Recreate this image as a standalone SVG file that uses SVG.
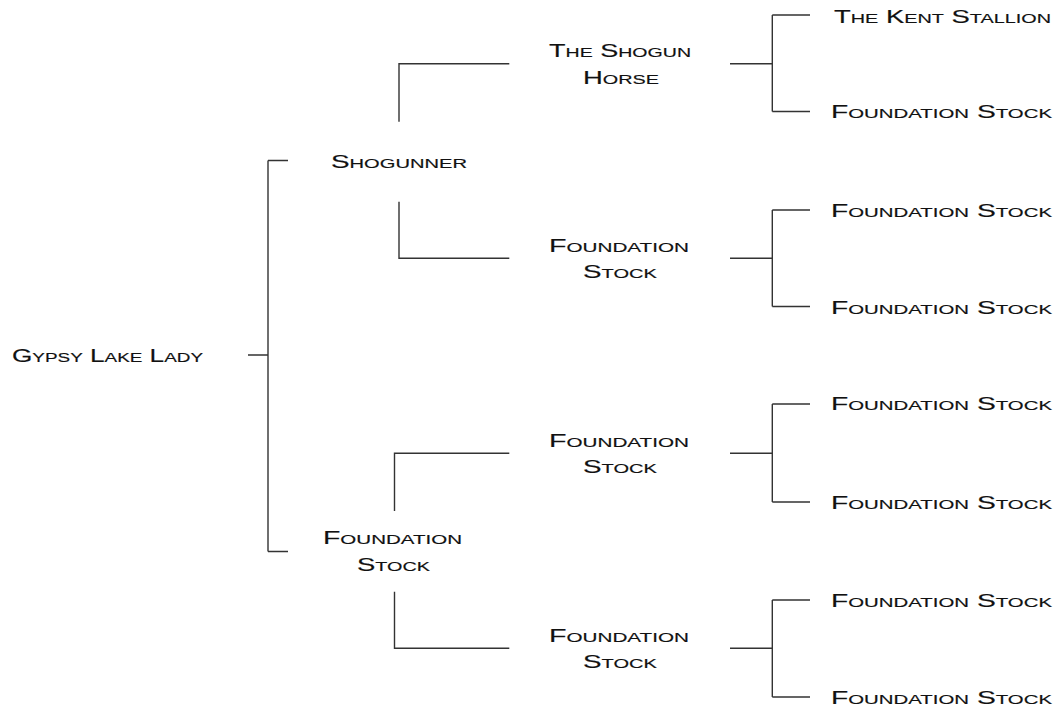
<svg xmlns="http://www.w3.org/2000/svg" width="1059" height="709" viewBox="0 0 1059 709">
<style>
.c{fill:none;stroke:#333;stroke-width:1.4}
text{font-family:"Liberation Sans",Arial,sans-serif;font-size:18px;font-variant:small-caps;fill:#111;stroke:#111;stroke-width:0.15}
</style>
<rect width="1059" height="709" fill="#fff"/>
<g id="connectors">
<path class="c" d="M248 355H268M268 160.5V551.5M268 160.5H288M268 551.5H288"/>
<path class="c" d="M399 121.7V63.7H509.3M399 201.7V258.3H509.3"/>
<path class="c" d="M394.5 511V453.3H509.3M394.5 591.7V648.3H509.3"/>
<path class="c" d="M730 63.7H772.3M772.3 15V111.5M772.3 15H810M772.3 111.5H810"/>
<path class="c" d="M730 258.3H772.3M772.3 210V306.5M772.3 210H810M772.3 306.5H810"/>
<path class="c" d="M730 453.3H772.3M772.3 404V502M772.3 404H810M772.3 502H810"/>
<path class="c" d="M730 648.3H772.3M772.3 600V697M772.3 600H810M772.3 697H810"/>
</g>
<g id="n-gypsy"><text x="12" y="361.7" textLength="191" lengthAdjust="spacingAndGlyphs">Gypsy Lake Lady</text></g>
<g id="n-shogunner"><text x="331" y="167.7" textLength="136" lengthAdjust="spacingAndGlyphs">Shogunner</text></g>
<g id="n-fs1"><text x="323" y="544" textLength="139" lengthAdjust="spacingAndGlyphs">Foundation</text><text x="357" y="571" textLength="73" lengthAdjust="spacingAndGlyphs">Stock</text></g>
<g id="n-shogunhorse"><text x="549" y="56.7" textLength="142" lengthAdjust="spacingAndGlyphs">The Shogun</text><text x="583" y="84.3" textLength="76" lengthAdjust="spacingAndGlyphs">Horse</text></g>
<g id="n-fs2"><text x="549" y="251.5" textLength="140" lengthAdjust="spacingAndGlyphs">Foundation</text><text x="583" y="277.8" textLength="74" lengthAdjust="spacingAndGlyphs">Stock</text></g>
<g id="n-fs3"><text x="549" y="446.7" textLength="140" lengthAdjust="spacingAndGlyphs">Foundation</text><text x="583" y="472.7" textLength="74" lengthAdjust="spacingAndGlyphs">Stock</text></g>
<g id="n-fs4"><text x="549" y="641.7" textLength="140" lengthAdjust="spacingAndGlyphs">Foundation</text><text x="583" y="667.5" textLength="74" lengthAdjust="spacingAndGlyphs">Stock</text></g>
<g id="n-kent"><text x="834" y="22.7" textLength="217" lengthAdjust="spacingAndGlyphs">The Kent Stallion</text></g>
<g id="n-g3-2"><text x="831" y="118" textLength="221" lengthAdjust="spacingAndGlyphs">Foundation Stock</text></g>
<g id="n-g3-3"><text x="831" y="217" textLength="221" lengthAdjust="spacingAndGlyphs">Foundation Stock</text></g>
<g id="n-g3-4"><text x="831" y="313.5" textLength="221" lengthAdjust="spacingAndGlyphs">Foundation Stock</text></g>
<g id="n-g3-5"><text x="831" y="410" textLength="221" lengthAdjust="spacingAndGlyphs">Foundation Stock</text></g>
<g id="n-g3-6"><text x="831" y="508.5" textLength="221" lengthAdjust="spacingAndGlyphs">Foundation Stock</text></g>
<g id="n-g3-7"><text x="831" y="606.5" textLength="221" lengthAdjust="spacingAndGlyphs">Foundation Stock</text></g>
<g id="n-g3-8"><text x="831" y="703.5" textLength="221" lengthAdjust="spacingAndGlyphs">Foundation Stock</text></g>
</svg>
